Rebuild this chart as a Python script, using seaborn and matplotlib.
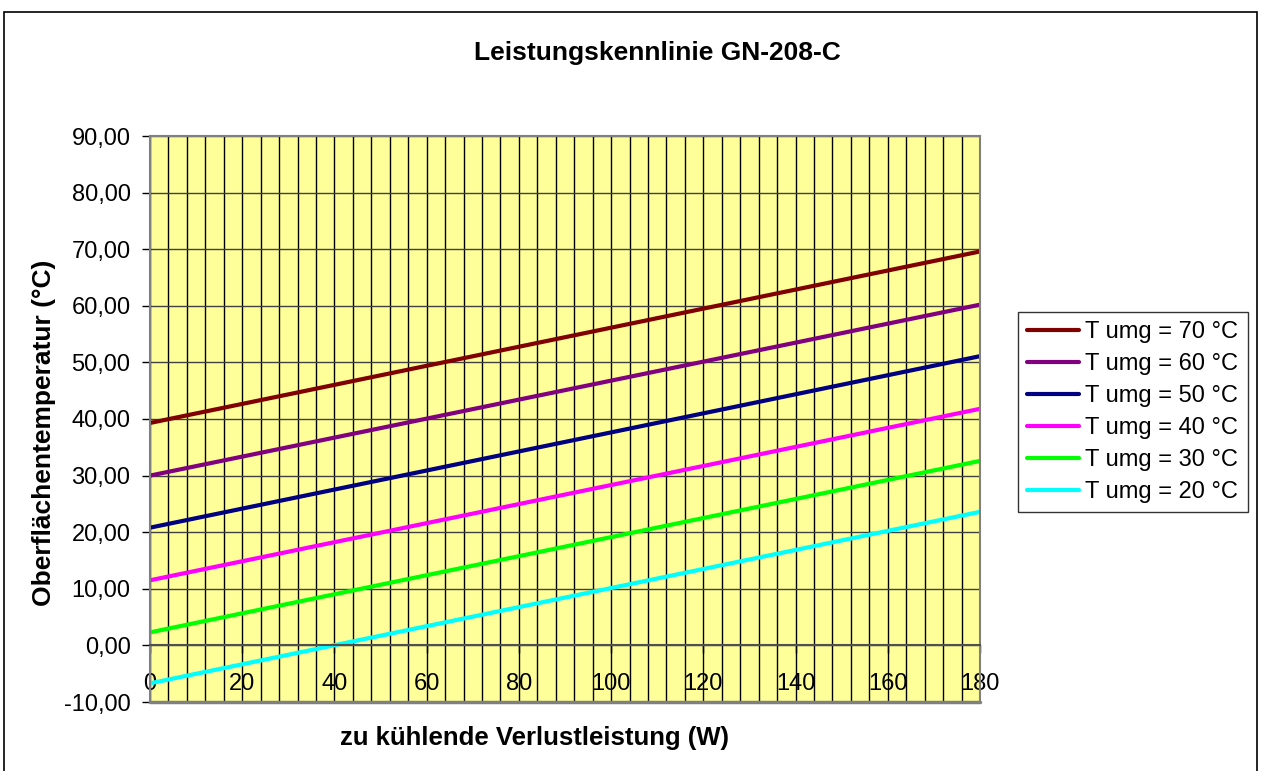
import numpy as np
import pandas as pd
import matplotlib
matplotlib.use("Agg")
import matplotlib.pyplot as plt
import matplotlib.ticker as mticker
from matplotlib.patches import Rectangle
import seaborn as sns

# data (straight lines, endpoints at 0 W and 180 W)
leistung = [0, 180]
t_70 = [39.3, 69.6]
t_60 = [30.0, 60.2]
t_50 = [20.8, 51.1]
t_40 = [11.5, 41.8]
t_30 = [2.3, 32.6]
t_20 = [-6.7, 23.6]

series_names = ["T umg = 70 °C", "T umg = 60 °C", "T umg = 50 °C",
                "T umg = 40 °C", "T umg = 30 °C", "T umg = 20 °C"]
series_values = [t_70, t_60, t_50, t_40, t_30, t_20]
series_colors = ["#800000", "#800080", "#000080", "#FF00FF", "#00FF00", "#00FFFF"]

rows = []
for name, vals in zip(series_names, series_values):
    for x, y in zip(leistung, vals):
        rows.append({"P": x, "T": y, "Serie": name})
df = pd.DataFrame(rows)

sns.set_style("white")
plt.rcParams["font.family"] = ["Liberation Sans", "DejaVu Sans"]
plt.rcParams["text.color"] = "black"
plt.rcParams["axes.labelcolor"] = "black"
plt.rcParams["xtick.color"] = "black"
plt.rcParams["ytick.color"] = "black"

fig = plt.figure(figsize=(12.61, 7.71), dpi=100)
ax = fig.add_axes([150 / 1261, 1 - 702 / 771, 830 / 1261, 566 / 771])
ax.set_facecolor("#FFFF99")

# outer chart border
fig.patches.append(Rectangle((4 / 1261, -0.05), 1253 / 1261, 1 - 12 / 771 + 0.05,
                             transform=fig.transFigure, fill=False,
                             edgecolor="black", linewidth=1.2))

ax.set_xlim(0, 180)
ax.set_ylim(-10, 90)
ax.xaxis.set_major_locator(mticker.MultipleLocator(20))
ax.xaxis.set_minor_locator(mticker.MultipleLocator(4))
ax.yaxis.set_major_locator(mticker.MultipleLocator(10))
ax.grid(which="minor", axis="x", color="black", linewidth=1.0)
ax.grid(which="major", axis="x", color="black", linewidth=1.0)
ax.grid(which="major", axis="y", color="#404040", linewidth=1.0)
ax.set_axisbelow(True)

sns.lineplot(data=df, x="P", y="T", hue="Serie", hue_order=series_names,
             palette=series_colors, linewidth=3, ax=ax)

# x axis crosses at 0
for s in ["left", "right", "top", "bottom"]:
    ax.spines[s].set_color("#808080")
    ax.spines[s].set_linewidth(1.5)
    ax.spines[s].set_visible(True)
ax.spines["bottom"].set_position(("data", 0))
ax.spines["bottom"].set_color("#505050")
ax.axhline(-10, color="#808080", linewidth=2.5, clip_on=False, zorder=5)

ax.yaxis.set_major_formatter(mticker.FuncFormatter(lambda v, p: f"{v:.2f}".replace(".", ",")))
ax.tick_params(axis="both", which="major", labelsize=17, direction="out", length=6,
               width=1, color="black", labelcolor="black", left=True, bottom=True)
ax.tick_params(axis="x", which="minor", length=0)
ax.tick_params(axis="x", pad=14)
ax.tick_params(axis="y", pad=8)

ax.set_xlabel("")
ax.set_ylabel("")
fig.text(535 / 1261, 1 - 738 / 771, "zu kühlende Verlustleistung (W)", ha="center",
         va="center", fontsize=18.5, fontweight="bold", color="black")
fig.text(44 / 1261, 1 - 433 / 771, "Oberflächentemperatur (°C)", ha="center",
         va="center", rotation=90, fontsize=19, fontweight="bold", color="black")
fig.text(657 / 1261, 1 - 53 / 771, "Leistungskennlinie GN-208-C", ha="center",
         va="center", fontsize=19, fontweight="bold", color="black")

sns.move_legend(ax, loc="upper left", bbox_to_anchor=(1018 / 1261, 1 - 312 / 771),
                bbox_transform=fig.transFigure, borderaxespad=0, title=None,
                frameon=True, fontsize=17, handlelength=2.2, handletextpad=0.25,
                labelspacing=0.42, fancybox=False, edgecolor="black",
                borderpad=0.4)
leg = ax.get_legend()
leg.get_frame().set_linewidth(1.0)
for line in leg.get_lines():
    line.set_linewidth(3)
for t in leg.get_texts():
    t.set_color("black")

fig.savefig("out.png", dpi=100)
